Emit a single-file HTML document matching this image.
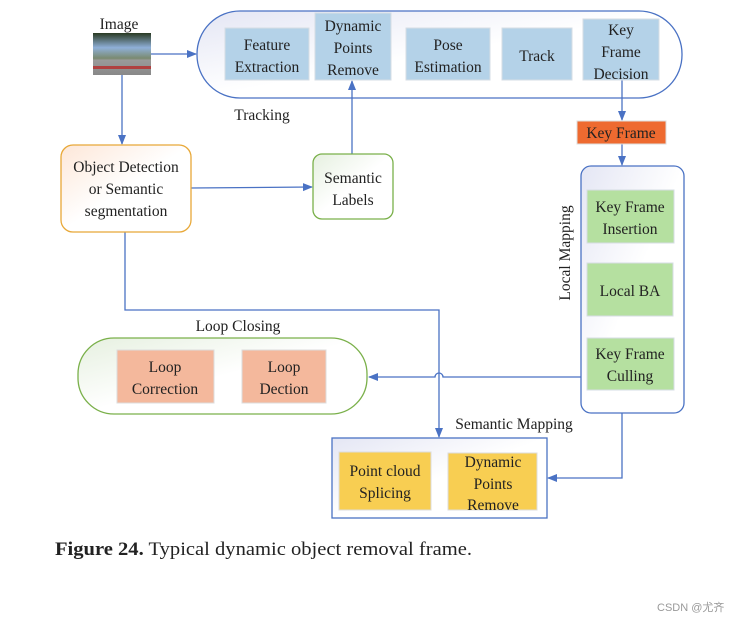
<!DOCTYPE html>
<html><head><meta charset="utf-8"><style>
body{margin:0;background:#fff;}
svg text{font-family:"Liberation Serif",serif;fill:#222;}
</style></head><body>
<svg width="739" height="622" viewBox="0 0 739 622" xmlns="http://www.w3.org/2000/svg">
<defs>
<linearGradient id="gb" x1="0" y1="0" x2="1" y2="1"><stop offset="0" stop-color="#e4e6f4"/><stop offset="0.5" stop-color="#fff"/></linearGradient>
<linearGradient id="gg" x1="0" y1="0" x2="1" y2="1"><stop offset="0" stop-color="#e6f0e0"/><stop offset="0.5" stop-color="#fff"/></linearGradient>
<linearGradient id="go" x1="0" y1="0" x2="1" y2="1"><stop offset="0" stop-color="#fde7d8"/><stop offset="0.5" stop-color="#fff"/></linearGradient>
<linearGradient id="sky" x1="0" y1="0" x2="0" y2="1"><stop offset="0" stop-color="#2a3a22"/><stop offset="0.35" stop-color="#8fb0d8"/><stop offset="0.6" stop-color="#7a8a70"/><stop offset="0.65" stop-color="#9a9a9a"/><stop offset="1" stop-color="#888"/></linearGradient>
<marker id="a" markerWidth="10" markerHeight="10" refX="9" refY="5" orient="auto" markerUnits="userSpaceOnUse"><path d="M0,1 L10,5 L0,9 Z" fill="#4a72c4"/></marker>
</defs>
<g stroke="#4a72c4" stroke-width="1.3" fill="none">
<rect x="197" y="11" width="485" height="87" rx="43" fill="url(#gb)"/>
<rect x="581" y="166" width="103" height="247" rx="10" fill="url(#gb)"/>
<rect x="332" y="438" width="215" height="80" fill="url(#gb)"/>
<line x1="151" y1="54" x2="196" y2="54" marker-end="url(#a)"/>
<line x1="122" y1="75" x2="122" y2="144" marker-end="url(#a)"/>
<line x1="191" y1="188" x2="312" y2="187" marker-end="url(#a)"/>
<line x1="352" y1="154" x2="352" y2="81" marker-end="url(#a)"/>
<line x1="622" y1="80" x2="622" y2="120" marker-end="url(#a)"/>
<line x1="622" y1="144" x2="622" y2="165" marker-end="url(#a)"/>
<path d="M125,232 V310 H439 V437" marker-end="url(#a)"/>
<path d="M581,377 H443 A4,4 0 0 0 435,377 H369" marker-end="url(#a)"/>
<path d="M622,413 V478 H548" marker-end="url(#a)"/>
</g>
<rect x="78" y="338" width="289" height="76" rx="36" fill="url(#gg)" stroke="#7ab04a" stroke-width="1.3"/>
<rect x="61" y="145" width="130" height="87" rx="12" fill="url(#go)" stroke="#e8a838" stroke-width="1.3"/>
<rect x="313" y="154" width="80" height="65" rx="9" fill="url(#gg)" stroke="#7ab04a" stroke-width="1.3"/>
<rect x="93" y="33" width="58" height="42" fill="url(#sky)"/>
<rect x="93" y="66" width="58" height="3" fill="#b04040"/>
<g fill="#b4d2e8" stroke="#d6dde4">
<rect x="225" y="28" width="84" height="52"/><rect x="315" y="13" width="76" height="67"/>
<rect x="406" y="28" width="84" height="52"/><rect x="502" y="28" width="70" height="52"/>
<rect x="583" y="19" width="76" height="61"/>
</g>
<g fill="#b5e0a0" stroke="#d6dde4">
<rect x="587" y="190" width="87" height="53"/><rect x="587" y="263" width="86" height="53"/><rect x="587" y="338" width="87" height="52"/>
</g>
<g fill="#f4b89c" stroke="#dcdcdc">
<rect x="117" y="350" width="97" height="53"/><rect x="242" y="350" width="84" height="53"/>
</g>
<g fill="#f8ce52" stroke="#dcdcdc">
<rect x="339" y="452" width="92" height="58"/><rect x="448" y="453" width="89" height="57"/>
</g>
<rect x="577" y="121" width="89" height="23" fill="#ee6a30" stroke="#ddd"/>
<g font-size="15.5" text-anchor="middle">
<text x="119" y="29">Image</text>
<text x="267" y="50">Feature</text><text x="267" y="72">Extraction</text>
<text x="353" y="31">Dynamic</text><text x="353" y="53">Points</text><text x="353" y="75">Remove</text>
<text x="448" y="50">Pose</text><text x="448" y="72">Estimation</text>
<text x="537" y="61">Track</text>
<text x="621" y="35">Key</text><text x="621" y="57">Frame</text><text x="621" y="79">Decision</text>
<text x="262" y="120">Tracking</text>
<text x="126" y="172">Object Detection</text><text x="126" y="194">or Semantic</text><text x="126" y="216">segmentation</text>
<text x="353" y="183">Semantic</text><text x="353" y="205">Labels</text>
<text x="621" y="138">Key Frame</text>
<text x="630" y="212">Key Frame</text><text x="630" y="234">Insertion</text>
<text x="630" y="296">Local BA</text>
<text x="630" y="359">Key Frame</text><text x="630" y="381">Culling</text>
<text x="238" y="331">Loop Closing</text>
<text x="165" y="372">Loop</text><text x="165" y="394">Correction</text>
<text x="284" y="372">Loop</text><text x="284" y="394">Dection</text>
<text x="514" y="429">Semantic Mapping</text>
<text x="385" y="476">Point cloud</text><text x="385" y="498">Splicing</text>
<text x="493" y="467">Dynamic</text><text x="493" y="489">Points</text><text x="493" y="510">Remove</text>
<text transform="translate(570,253) rotate(-90)">Local Mapping</text>
</g>
<text x="55" y="555" font-size="19" textLength="417" lengthAdjust="spacingAndGlyphs"><tspan font-weight="bold">Figure 24.</tspan> Typical dynamic object removal frame.</text>
<text x="657" y="611" font-size="11" style="font-family:'Liberation Sans','Noto Sans CJK SC',sans-serif;fill:#999">CSDN @尤齐</text>
</svg>
</body></html>
